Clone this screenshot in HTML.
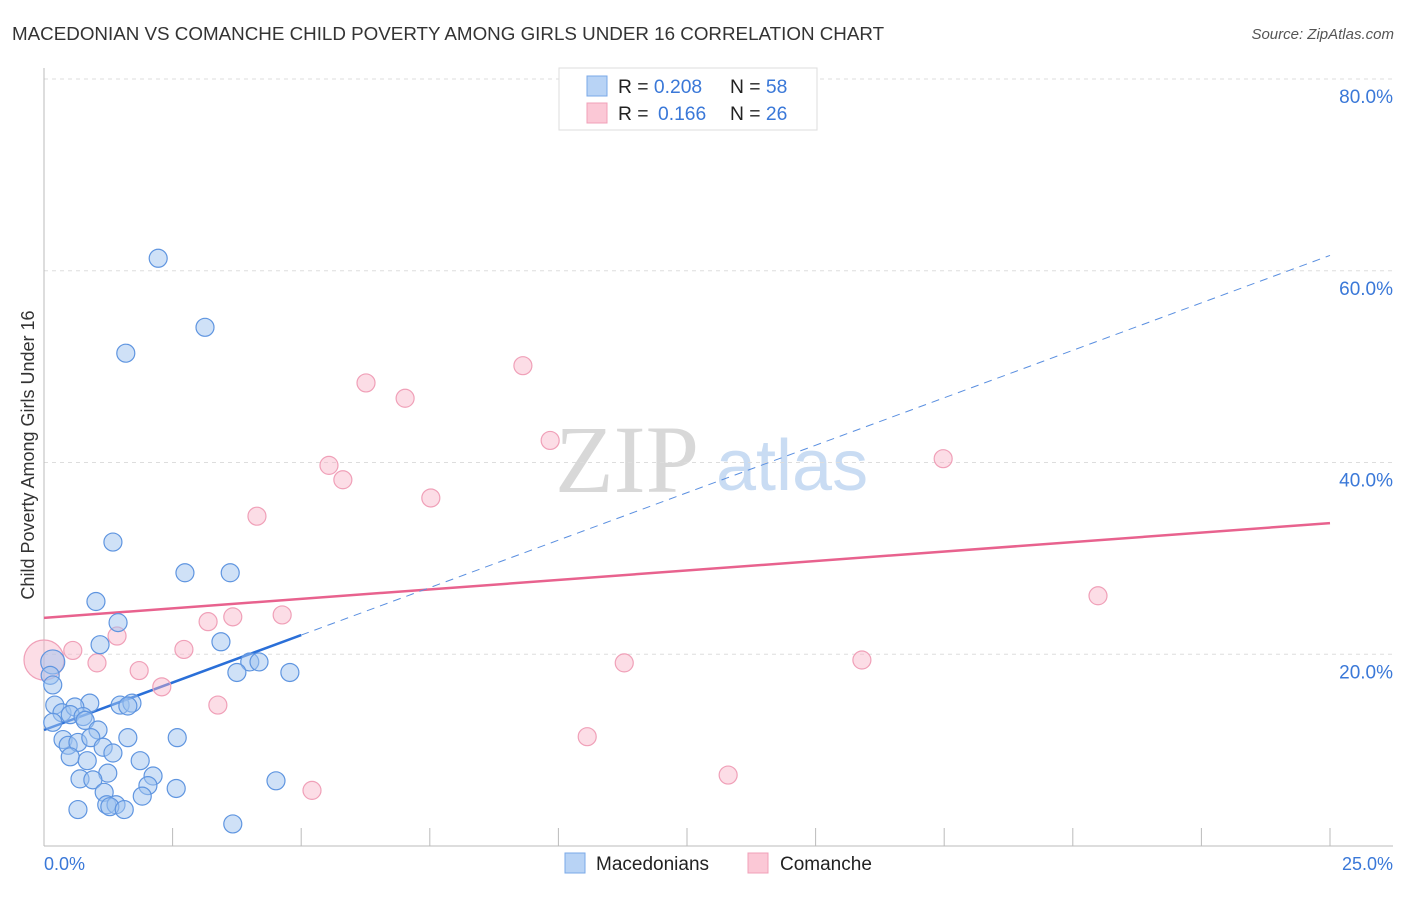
<!DOCTYPE html>
<html><head><meta charset="utf-8"><style>
body{margin:0;background:#fff;width:1406px;height:892px;overflow:hidden;font-family:"Liberation Sans",sans-serif}
</style></head><body>
<svg width="1406" height="892" id="c" font-family="Liberation Sans, sans-serif">
<text x="12" y="40" font-size="18.8" fill="#333">MACEDONIAN VS COMANCHE CHILD POVERTY AMONG GIRLS UNDER 16 CORRELATION CHART</text>
<text x="1394" y="39" font-size="15" fill="#555" font-style="italic" text-anchor="end">Source: ZipAtlas.com</text>
<text x="555" y="492" font-size="96" fill="#d8d8d8" font-family="Liberation Serif, serif">ZIP</text>
<text x="716" y="490" font-size="72" fill="#c9dcf3">atlas</text>
<g id="grid"></g>
<line x1="44" y1="68" x2="44" y2="846" stroke="#bbb"/>
<line x1="44" y1="846" x2="1393" y2="846" stroke="#bbb"/>
<g id="xt"></g>
<g id="lines"></g>
<g id="pts"></g>
<text transform="translate(34,455) rotate(-90)" font-size="18" fill="#333" text-anchor="middle">Child Poverty Among Girls Under 16</text>
<text x="44" y="870" font-size="18" fill="#3a78d8">0.0%</text>
<text x="1393" y="870" font-size="18" fill="#3a78d8" text-anchor="end">25.0%</text>
<g>
<rect x="559" y="68" width="258" height="62" fill="#fff" stroke="#ddd"/>
<rect x="587" y="76" width="20" height="20" fill="#b8d3f5" stroke="#7aa8e8"/>
<rect x="587" y="103" width="20" height="20" fill="#fbc8d6" stroke="#f0a0b8"/>
<text x="618" y="93" font-size="19.3" fill="#222">R = <tspan fill="#3a78d8">0.208</tspan><tspan x="730">N = </tspan><tspan fill="#3a78d8">58</tspan></text>
<text x="618" y="120" font-size="19.3" fill="#222">R = <tspan x="658" fill="#3a78d8">0.166</tspan><tspan x="730">N = </tspan><tspan fill="#3a78d8">26</tspan></text>
</g>
<g>
<rect x="565" y="853" width="20" height="20" fill="#b8d3f5" stroke="#7aa8e8"/>
<text x="596" y="870" font-size="19" fill="#222">Macedonians</text>
<rect x="748" y="853" width="20" height="20" fill="#fbc8d6" stroke="#f0a0b8"/>
<text x="780" y="870" font-size="19" fill="#222">Comanche</text>
</g>
</svg>
<script>
const yTicks=[20,40,60,80];
const yTickLabels=["20.0%","40.0%","60.0%","80.0%"];
const xTicks=[0,2.5,5,7.5,10,12.5,15,17.5,20,22.5,25];
const macX=[2.22,3.13,1.59,1.34,2.74,3.62,1.01,1.44,1.09,3.44,0.17,0.12,0.17,4.00,4.18,3.75,4.78,0.21,0.89,1.48,1.71,1.63,0.35,0.60,0.51,0.76,0.80,0.17,1.05,0.37,0.47,0.66,0.91,1.63,2.59,1.15,1.34,0.51,0.84,1.87,1.24,0.70,0.95,2.12,2.02,2.57,1.91,1.17,4.51,0.66,1.22,1.40,1.28,1.56,3.67];
const macY=[61.3,54.1,51.4,31.7,28.5,28.5,25.5,23.3,21.0,21.3,19.2,17.8,16.8,19.2,19.2,18.1,18.1,14.7,14.9,14.7,14.9,14.6,13.9,14.5,13.7,13.5,13.1,12.9,12.1,11.1,10.5,10.8,11.3,11.3,11.3,10.3,9.7,9.3,8.9,8.9,7.6,7.0,6.9,7.3,6.3,6.0,5.2,5.6,6.8,3.8,4.3,4.3,4.1,3.8,2.3];
const comX=[0.0,0.56,1.03,1.42,1.85,2.29,2.72,3.19,3.38,3.67,4.14,4.63,5.21,5.54,5.81,6.26,7.02,7.52,9.31,9.84,10.56,11.28,13.30,15.90,17.48,20.49];
const comY=[19.4,20.4,19.1,21.9,18.3,16.6,20.5,23.4,14.7,23.9,34.4,24.1,5.8,39.7,38.2,48.3,46.7,36.3,50.1,42.3,11.4,19.1,7.4,19.4,40.4,26.1];
const macFit=[12.1,1.98];
const comFit=[23.8,0.395];
const X=v=>44+v/25*1286, Y=v=>846-v*9.5875;
const NS="http://www.w3.org/2000/svg";
function mk(p,t,a){const e=document.createElementNS(NS,t);for(const k in a)e.setAttribute(k,a[k]);document.getElementById(p).appendChild(e);return e;}
yTicks.forEach((t,i)=>{
 const l=mk('grid','line',{x1:44,x2:1393,y1:Y(t),y2:Y(t),stroke:'#ddd','stroke-dasharray':'4,4'});
 
 
 const tx=mk('grid','text',{x:1393,y:Y(t)+24,'font-size':19,fill:'#3a78d8','text-anchor':'end'});
 tx.textContent=yTickLabels[i];
 
 
});
xTicks.forEach(t=>{
 const l=mk('xt','line',{x1:X(t),x2:X(t),y1:828,y2:846,stroke:'#bbb'});
 
 
});
function dot(x,y,r,f,s,n){const c=mk('pts','circle',{cx:X(x),cy:Y(y),r:r,fill:f,stroke:s,'stroke-width':1.2});
 
 }
comX.forEach((x,i)=>dot(x,comY[i],i==0?20:9,'rgba(248,180,200,0.45)','#f0a0b8','comanche-point'));
macX.forEach((x,i)=>dot(x,macY[i],i==10?12:9,'rgba(160,196,240,0.5)','#5f95e0','macedonian-point'));
let l=mk('lines','line',{x1:X(0),y1:Y(comFit[0]),x2:X(25),y2:Y(comFit[0]+25*comFit[1]),stroke:'#e8628e','stroke-width':2.5});


l=mk('lines','line',{x1:X(0),y1:Y(macFit[0]),x2:X(5),y2:Y(macFit[0]+5*macFit[1]),stroke:'#2a6fd8','stroke-width':2.5});


l=mk('lines','line',{x1:X(5),y1:Y(macFit[0]+5*macFit[1]),x2:X(25),y2:Y(macFit[0]+25*macFit[1]),stroke:'#5a8fe0','stroke-width':1,'stroke-dasharray':'8,6'});


</script>
</body></html>
